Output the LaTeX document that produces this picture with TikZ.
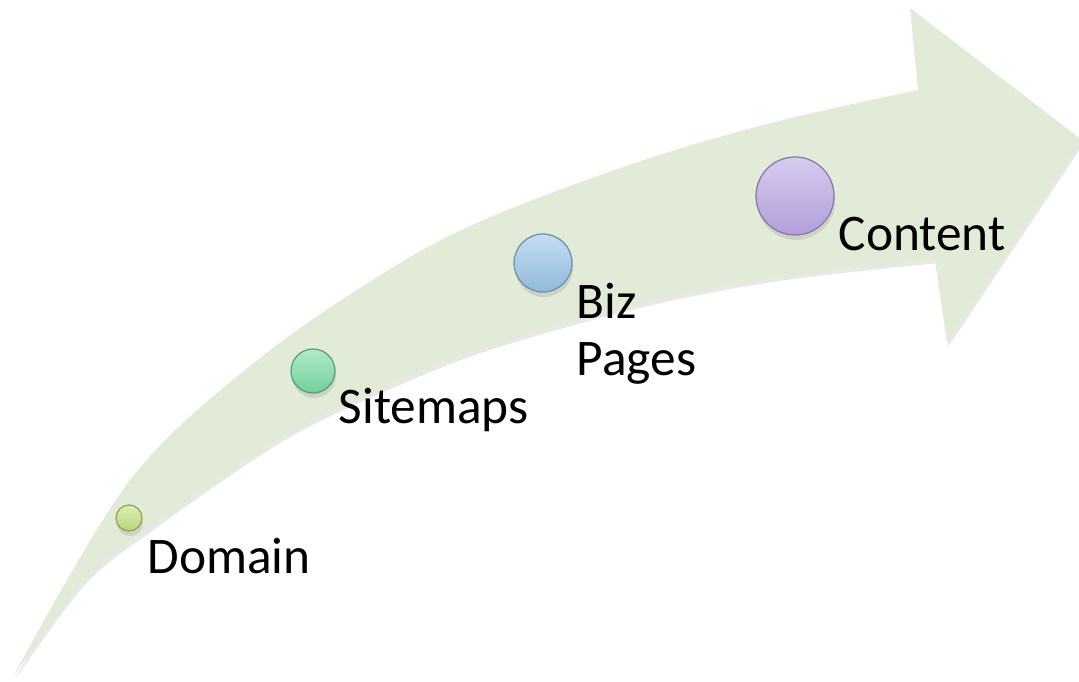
\documentclass[tikz,border=0pt]{standalone}
\usepackage{fontspec}
\setmainfont{Carlito}
\usetikzlibrary{shadows}

\definecolor{bandgreen}{RGB}{226,234,216}
\definecolor{domaincol}{RGB}{196,226,128}
\definecolor{sitemapcol}{RGB}{122,220,164}
\definecolor{bizcol}{RGB}{154,198,232}
\definecolor{contentcol}{RGB}{188,168,230}

\tikzset{
	band/.style={fill=bandgreen, drop shadow={shadow xshift=0.5pt, shadow yshift=-0.9pt, opacity=0.18}},
	bead/.style={circle, inner sep=0pt, minimum size=#1, line width=0.35pt,
		drop shadow={shadow xshift=0.3pt, shadow yshift=-1.4pt, opacity=0.22}},
	beadfill/.style={top color=#1!60!white, middle color=#1, bottom color=#1!94!black, draw=#1!72!black},
	lbl/.style={anchor=base west, inner sep=0pt, align=left, font=\fontsize{14.6}{16.2}\selectfont},
}

\begin{document}
\begin{tikzpicture}[x=0.01cm, y=-0.01cm]
			%%%%% FRAME %%%%%
			\useasboundingbox (0, 0) rectangle (1079, 681);
			
			%%%%% CURVED ARROW %%%%%
			\path[band] plot[smooth, tension=0.55] coordinates {(13, 677) (130, 480) (260, 358) (400, 263) (500, 213) (650, 158) (783, 120) (918, 90)}
				-- (910, 8) -- (1082, 140) -- (947, 343) -- (935, 260)
				-- plot[smooth, tension=0.55] coordinates {(935, 260) (783, 277) (650, 302) (500, 343) (400, 381) (283, 437) (150, 528) (83, 582) (13, 677)}
				-- cycle;
			
			%%%%% BEADS %%%%%
			\node[bead=0.26cm, beadfill=domaincol] (domain) at (129, 518) {};
			\node[bead=0.44cm, beadfill=sitemapcol] (sitemaps) at (313, 371) {};
			\node[bead=0.58cm, beadfill=bizcol] (biz) at (543, 263) {};
			\node[bead=0.78cm, beadfill=contentcol] (content) at (795, 196) {};
			
			%%%%% LABELS %%%%%
			\node[lbl] (domainlbl) at (147, 573) {Domain};
			\node[lbl] (sitemapslbl) at (338, 423) {Sitemaps};
			\node[lbl] (bizlbl) at (576, 375) {Biz\\Pages};
			\node[lbl] (contentlbl) at (838, 250) {Content};
			
		\end{tikzpicture}
\end{document}
